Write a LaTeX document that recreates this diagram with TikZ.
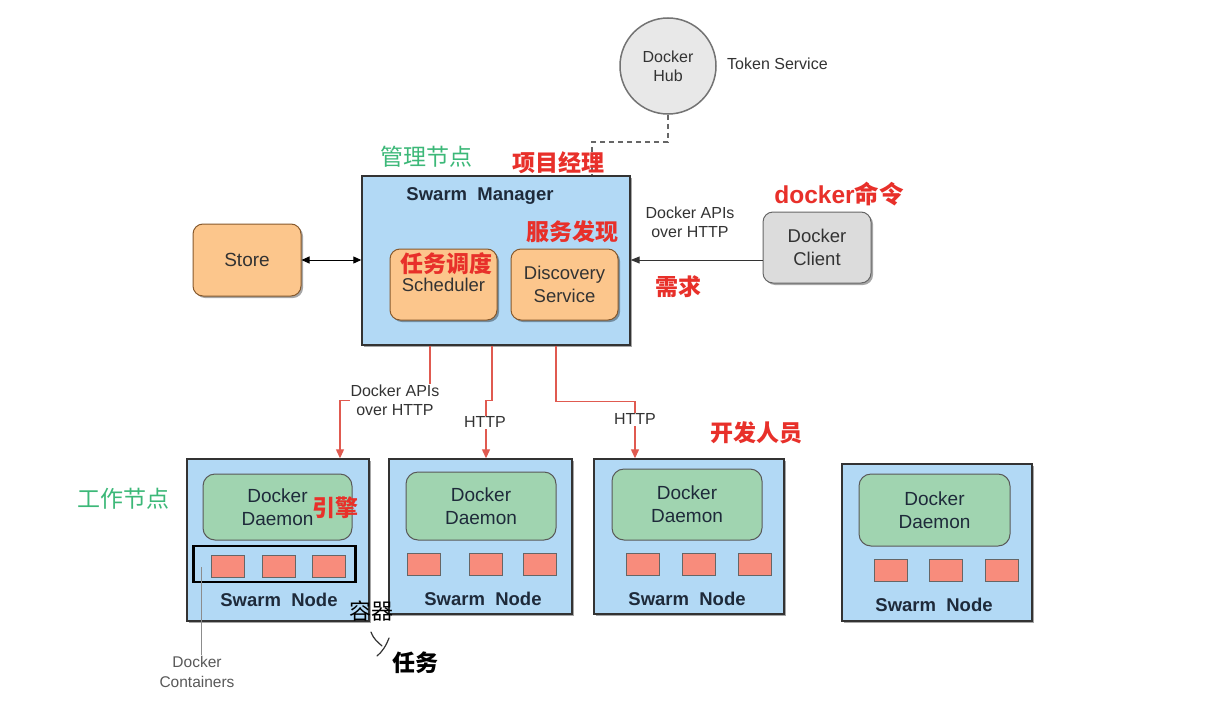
\documentclass[tikz,border=0pt]{standalone}
\usepackage{fontspec}
\setmainfont{Liberation Sans}
\newfontfamily\cjk{Noto Sans CJK SC}
\usetikzlibrary{shadows,arrows.meta}
\definecolor{mblue}{HTML}{B2D9F5}
\definecolor{morange}{HTML}{FCC68C}
\definecolor{mgreen}{HTML}{A0D4B0}
\definecolor{mcont}{HTML}{F88C7C}
\definecolor{mgray}{HTML}{DCDCDC}
\definecolor{mred}{HTML}{E8302A}
\definecolor{mline}{HTML}{E05A50}
\definecolor{ggreen}{HTML}{3CB878}
\definecolor{dtext}{HTML}{1E2A3A}
\tikzset{
  fs/.style 2 args={font=\fontsize{#1}{#2}\selectfont},
  shad/.style={drop shadow={shadow xshift=2pt,shadow yshift=-2pt,opacity=0.35,fill=black}},
  bluebox/.style={draw=black!80,line width=1.4pt,fill=mblue,shad,inner sep=0pt},
  orangebox/.style={draw=brown!70!black,line width=1pt,fill=morange,rounded corners=10pt,inner sep=0pt,align=center,text=black!80,shad},
  greenbox/.style={draw=black!65,line width=1pt,fill=mgreen,rounded corners=12pt,inner sep=0pt,align=center,text=dtext,fs={19}{23}},
  cont/.style={draw=black!60,line width=0.8pt,fill=mcont,minimum width=33pt,minimum height=22pt,inner sep=0pt},
  graybox/.style={draw=black!60,line width=1pt,fill=mgray,rounded corners=10pt,inner sep=0pt,align=center,text=black!80,shad},
  lbl/.style={align=center,text=black!80,fs={16}{19},inner sep=1pt},
  redlbl/.style={text=mred,font=\cjk\bfseries\fontsize{23}{25}\selectfont,inner sep=0pt},
  greenlbl/.style={text=ggreen,font=\cjk\fontsize{23}{25}\selectfont,inner sep=0pt},
  redarrow/.style={draw=mline,line width=1.2pt,-{Triangle[length=9pt,width=8pt]}},
  sn/.style={font=\bfseries\fontsize{18.5}{21}\selectfont,text=dtext,inner sep=0pt},
}
\begin{document}
\begin{tikzpicture}[x=1pt,y=-1pt]
\useasboundingbox (0,0) rectangle (1228,720);
\fill[white] (0,0) rectangle (1228,720);

% Docker Hub
\node[circle,draw=black!55,line width=1.5pt,fill=black!9,minimum size=96pt,inner sep=0pt,align=center,text=black!80,fs={16}{19}] (hub) at (668,66) {Docker\\Hub};
\node[lbl,anchor=west] (tok) at (726,64) {Token Service};

% Swarm manager
\node[bluebox,minimum width=268pt,minimum height=169pt] (m) at (496,260.5) {};
\node[font=\bfseries\fontsize{18.5}{21}\selectfont,text=dtext] (mt) at (480,196) {Swarm\ \ Manager};
\node[orangebox,minimum width=107pt,minimum height=71pt,fs={18.5}{23}] (sch) at (443.5,284.5) {\\[-8pt]Scheduler};
\node[orangebox,minimum width=107pt,minimum height=71pt,fs={18.5}{23}] (disc) at (564.5,284.5) {Discovery\\Service};

% Store and client
\node[orangebox,minimum width=108pt,minimum height=72pt,fs={19}{23}] (store) at (247,260) {Store};
\node[graybox,minimum width=108pt,minimum height=71pt,fs={18.5}{23}] (cli) at (817,247.5) {Docker\\Client};

% Dashed link to hub
\draw[black!60,line width=1.6pt,dash pattern=on 5pt off 4pt] (hub.south) -- ++(0,27) -| ([xshift=96pt]m.north);

% Store <-> manager
\draw[black,line width=1pt,{Triangle[length=8pt,width=7pt]}-{Triangle[length=8pt,width=7pt]}] (store.east) -- (m.west |- store.east);
% client -> manager
\coordinate (cin) at ([yshift=-12.5pt]cli.west);
\draw[black!80,line width=1pt,-{Triangle[length=9pt,width=7pt]}] (cin) -- (m.east |- cin);
\node[lbl] (api1) at (690,222) {Docker APIs\\over HTTP};

% Worker nodes
\node[bluebox,minimum width=182pt,minimum height=162pt] (w1) at (278,540) {};
\node[bluebox,minimum width=183pt,minimum height=155pt] (w2) at (480.5,536.5) {};
\node[bluebox,minimum width=190pt,minimum height=155pt] (w3) at (689,536.5) {};
\node[bluebox,minimum width=190pt,minimum height=157pt] (w4) at (937,542.5) {};

\node[greenbox,minimum width=149pt,minimum height=66pt] (d1) at (277.5,507) {Docker\\Daemon};
\node[greenbox,minimum width=150pt,minimum height=68pt] (d2) at (481,506) {Docker\\Daemon};
\node[greenbox,minimum width=150pt,minimum height=71pt] (d3) at (687,504.5) {Docker\\Daemon};
\node[greenbox,minimum width=151pt,minimum height=72pt] (d4) at (934.5,510) {Docker\\Daemon};

\node[cont] (c11) at (228,566) {};
\node[cont] (c12) at (279,566) {};
\node[cont] (c13) at (329,566) {};
\node[cont] (c21) at (424,564) {};
\node[cont] (c22) at (486,564) {};
\node[cont] (c23) at (540,564) {};
\node[cont] (c31) at (643,564) {};
\node[cont] (c32) at (699,564) {};
\node[cont] (c33) at (755,564) {};
\node[cont] (c41) at (891,570) {};
\node[cont] (c42) at (946,570) {};
\node[cont] (c43) at (1002,570) {};

\node[sn] (s1) at (279,600) {Swarm\ \ Node};
\node[sn] (s2) at (483,599) {Swarm\ \ Node};
\node[sn] (s3) at (687,599) {Swarm\ \ Node};
\node[sn] (s4) at (934,605) {Swarm\ \ Node};

% black box round containers
\node[draw=black,line width=2.5pt,minimum width=162pt,minimum height=36pt,inner sep=0pt] (cbox) at (274.5,564) {};

% Docker containers label
\node[lbl,text=black!65,fs={15.5}{20}] (dc) at (197,672) {Docker\\Containers};
\coordinate (dct) at (201,567);
\draw[black!45,line width=1pt] (dct) -- (dc.north -| dct);

% manager -> workers
\draw[redarrow] ([xshift=-66pt]m.south) -- ++(0,55) -| ([xshift=62pt]w1.north);
\draw[redarrow] ([xshift=-4pt]m.south) -- ++(0,55) -| ([xshift=5.5pt]w2.north);
\draw[redarrow] ([xshift=60pt]m.south) -- ++(0,56) -| ([xshift=-54pt]w3.north);
\node[lbl,fill=white] (api2) at (395,400) {Docker APIs\\over HTTP};
\node[lbl,fill=white] (h2) at (485,422) {HTTP};
\node[lbl,fill=white] (h3) at (635,419) {HTTP};

% annotations
\node[greenlbl] (g1) at (426,157) {管理节点};
\node[greenlbl] (g2) at (123,499) {工作节点};
\node[redlbl] (r1) at (558,163) {项目经理};
\node[redlbl] (r2) at (446,264) {任务调度};
\node[redlbl] (r3) at (572,232) {服务发现};
\node[redlbl,font=\bfseries\fontsize{24.5}{26}\selectfont] (r4) at (839,194) {docker{\cjk 命令}};
\node[redlbl] (r5) at (678,287) {需求};
\node[redlbl] (r6) at (335,508) {引擎};
\node[redlbl] (r7) at (756,433) {开发人员};
\node[text=black,font=\cjk\fontsize{22}{24}\selectfont,inner sep=0pt] (k1) at (371,611) {容器};
\node[text=black,font=\cjk\bfseries\fontsize{23}{25}\selectfont,inner sep=0pt] (k2) at (415,663) {任务};
\draw[black!80,line width=1.2pt,line cap=round] (371,632) .. controls (374,640) and (378,642) .. (382,646);
\draw[black!80,line width=1.2pt,line cap=round] (389,638) .. controls (386,646) and (382,652) .. (377,656);
\end{tikzpicture}
\end{document}
